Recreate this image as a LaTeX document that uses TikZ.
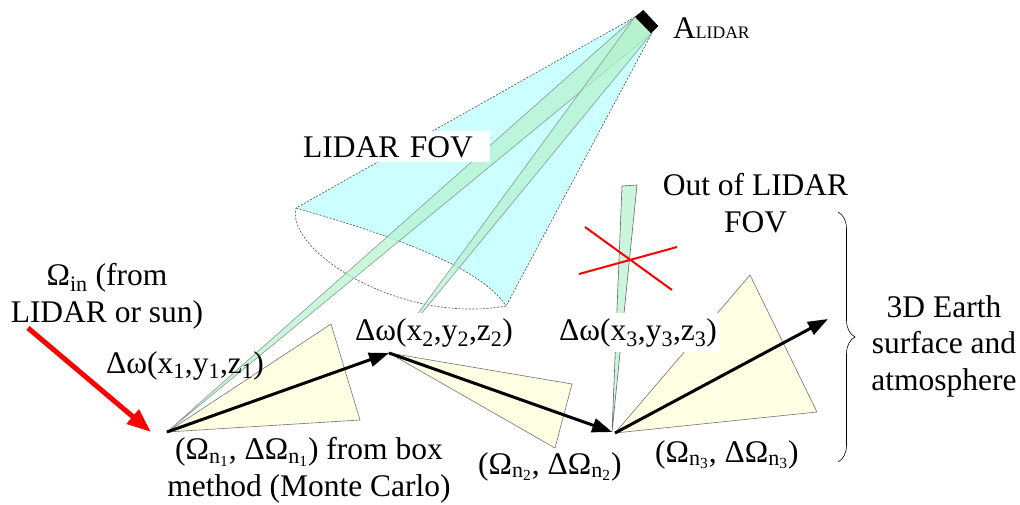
\documentclass[tikz,border=0pt]{standalone}
\usepackage{fontspec}
\setmainfont{Liberation Serif}
\usepackage{tikz}
\usetikzlibrary{arrows.meta, decorations.pathreplacing}
\definecolor{fovcyan}{HTML}{CCFFFF}
\definecolor{beamgrn}{HTML}{B4F2CC}
\definecolor{conecol}{HTML}{FFFFE3}
\definecolor{edgegray}{HTML}{8A9A93}
\definecolor{rayred}{HTML}{FF0000}

\begin{document}
\begin{tikzpicture}[
    x=1pt, y=-1pt,
    lbl/.style     = {font=\fontsize{31.5}{36.5}\selectfont, inner sep=0pt},
    mask/.style    = {lbl, fill=white, inner xsep=3pt, inner ysep=5pt},
    fovline/.style = {draw=black!70, line width=0.6pt,
                      dash pattern=on 2pt off 1.5pt},
    beam/.style    = {fill=beamgrn, fill opacity=0.7, draw=edgegray,
                      line width=0.6pt},
    tri/.style     = {fill=conecol, draw=black!55, line width=0.6pt},
    flow/.style    = {-{Triangle[length=20pt,width=14pt]}, line width=3pt},
    inray/.style   = {-{Triangle[length=24pt,width=18pt]}, line width=5pt,
                      color=rayred},
    cross/.style   = {draw=rayred, line width=2pt},
    brc/.style     = {decorate, decoration={brace, amplitude=17pt},
                      line width=0.6pt}
  ]
  \useasboundingbox (0,0) rectangle (1020,504);

  %% points
  \coordinate (sL)   at (635,17);
  \coordinate (sR)   at (652,33);
  \coordinate (rimL) at (296,208);
  \coordinate (rimR) at (506,306);
  \coordinate (p1)   at (167,432);
  \coordinate (p2)   at (389,353);
  \coordinate (p3)   at (615,433);
  \coordinate (exit) at (828,319);
  \coordinate (sun)  at (28,328);
  \coordinate (hit)  at (151,432);

  %% LIDAR FOV cone
  \fill[fovcyan] (sL) -- (rimL) .. controls (380,232) and (480,265) .. (rimR)
    -- (sR) -- cycle;
  \draw[fovline] (sL) -- (rimL) .. controls (285,250) and (400,325) .. (rimR)
    -- (sR);
  \draw[fovline] (rimL) .. controls (380,232) and (480,265) .. (rimR);

  %% beams
  \filldraw[beam] (p1) -- (sL) -- (sR) -- cycle;
  \filldraw[beam] (p2) -- (sL) -- (sR) -- cycle;
  \filldraw[beam, draw=black!60] (612,432) -- (622,186) -- (637,185) -- cycle;

  %% LIDAR
  \fill (635,16.7) -- (643.3,10) -- (658.3,26) -- (651,33.3) -- cycle;
  \node[lbl, anchor=base west] (alidar) at (673,38)
       {A{\fontsize{17.6}{18}\selectfont LIDAR}};

  %% scattering cones
  \filldraw[tri] (p1) -- (331,324) -- (360,420) -- cycle;
  \filldraw[tri] (p2) -- (572,384) -- (555,448) -- cycle;
  \filldraw[tri] (p3) -- (750,275) -- (817,412) -- cycle;

  %% labels
  \node[mask, anchor=base west, text width=184pt] (fov) at (300,157) {LIDAR FOV};
  \node[mask, anchor=base west] (dw2) at (352,340)
       {Δω(x\textsubscript{2},y\textsubscript{2},z\textsubscript{2})};
  \node[mask, anchor=base west] (dw3) at (556,340)
       {Δω(x\textsubscript{3},y\textsubscript{3},z\textsubscript{3})};
  \node[lbl, anchor=base west] (dw1) at (106,373)
       {Δω(x\textsubscript{1},y\textsubscript{1},z\textsubscript{1})};
  \node[lbl, align=center, anchor=base] (omin) at (107,322)
       {Ω\textsubscript{in} (from\\LIDAR or sun)};
  \node[lbl, align=center, anchor=base] (out) at (755.5,232)
       {Out of LIDAR\\FOV};
  \node[lbl, align=center, anchor=base] (earth) at (944,390)
       {3D Earth\\surface and\\atmosphere};
  \node[lbl, align=center, anchor=base] (dir1) at (309,496)
       {(Ω\textsubscript{n\textsubscript{1}}, ΔΩ\textsubscript{n\textsubscript{1}}) from box\\method (Monte Carlo)};
  \node[lbl, anchor=base west] (dir2) at (478,474)
       {(Ω\textsubscript{n\textsubscript{2}}, ΔΩ\textsubscript{n\textsubscript{2}})};
  \node[lbl, anchor=base west] (dir3) at (655,462)
       {(Ω\textsubscript{n\textsubscript{3}}, ΔΩ\textsubscript{n\textsubscript{3}})};

  %% photon path
  \draw[inray] (sun) -- (hit);
  \draw[flow] (p1) -- (p2);
  \draw[flow, shorten >=3pt] (p2) -- (p3);
  \draw[flow] (p3) -- (exit);

  %% out of FOV mark
  \draw[cross] (585,227) -- (672,290) (579,274) -- (677,247);

  %% brace
  \draw[brc] (838,212) -- (838,462);

\end{tikzpicture}
\end{document}
